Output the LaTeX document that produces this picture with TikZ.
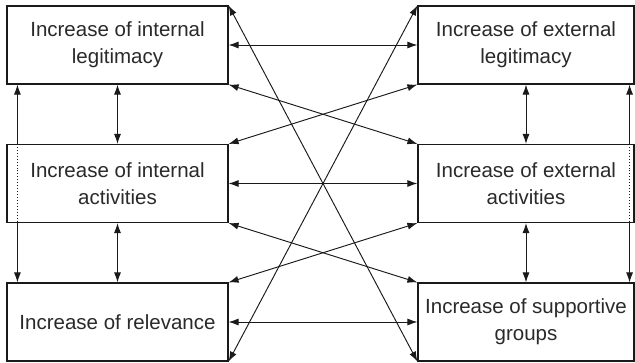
\documentclass[tikz,border=0pt]{standalone}
\usepackage{fontspec}
\setmainfont{Liberation Sans}
\usetikzlibrary{arrows.meta}
\definecolor{txt}{HTML}{2A2A2A}
\definecolor{ln}{HTML}{1A1A1A}
\begin{document}
\begin{tikzpicture}[x=1pt,y=-1pt,
  box/.style={draw=ln,line width=1.15pt,fill=white,minimum height=78pt,inner sep=0pt,
    align=center,text=txt,font=\fontsize{20.5}{27}\selectfont},
  lbox/.style={box,minimum width=221pt},
  rbox/.style={box,minimum width=216pt},
  tip/.style={-{Latex[length=10pt,width=7pt]}},
  dbl/.style={{Latex[length=10pt,width=7pt]}-{Latex[length=10pt,width=7pt]}},
  conn/.style={draw=ln,line width=0.95pt}]
\useasboundingbox (0,0) rectangle (635,362);
% boxes
\node[lbox] (l1) at (117.5,45) {Increase of internal\\legitimacy};
\node[lbox] (l2) at (117.5,183.5) {Increase of internal\\activities};
\node[lbox] (l3) at (117.5,322) {Increase of relevance};
\node[rbox] (r1) at (526,45) {Increase of external\\legitimacy};
\node[rbox] (r2) at (526,183.5) {Increase of external\\activities};
\node[rbox] (r3) at (526,322) {Increase of supportive\\groups};
% short vertical arrows
\draw[conn,dbl] (l1.south) -- (l2.north);
\draw[conn,dbl] (l2.south) -- (l3.north);
\draw[conn,dbl] (r1.south) -- (r2.north);
\draw[conn,dbl] (r2.south) -- (r3.north);
% long vertical arrows (dotted across middle box)
\draw[conn,{Latex[length=10pt,width=7pt]}-] ([xshift=11pt]l1.south west) -- ([xshift=11pt]l2.north west);
\draw[conn,dotted,line width=0.8pt] ([xshift=11pt]l2.north west) -- ([xshift=11pt]l2.south west);
\draw[conn,tip] ([xshift=11pt]l2.south west) -- ([xshift=11pt]l3.north west);
\draw[conn,{Latex[length=10pt,width=7pt]}-] ([xshift=-5pt]r1.south east) -- ([xshift=-5pt]r2.north east);
\draw[conn,dotted,line width=0.8pt] ([xshift=-5pt]r2.north east) -- ([xshift=-5pt]r2.south east);
\draw[conn,tip] ([xshift=-5pt]r2.south east) -- ([xshift=-5pt]r3.north east);
% horizontal arrows
\draw[conn,dbl] (l1.east) -- (r1.west);
\draw[conn,dbl] (l2.east) -- (r2.west);
\draw[conn,dbl] (l3.east) -- (r3.west);
% diagonal arrows
\draw[conn,dbl] (l1.north east) -- (r3.south west);
\draw[conn,dbl] (r1.north west) -- (l3.south east);
\draw[conn,dbl] (l1.south east) -- (r2.north west);
\draw[conn,dbl] (l2.north east) -- (r1.south west);
\draw[conn,dbl] (l2.south east) -- (r3.north west);
\draw[conn,dbl] (l3.north east) -- (r2.south west);
\end{tikzpicture}
\end{document}
